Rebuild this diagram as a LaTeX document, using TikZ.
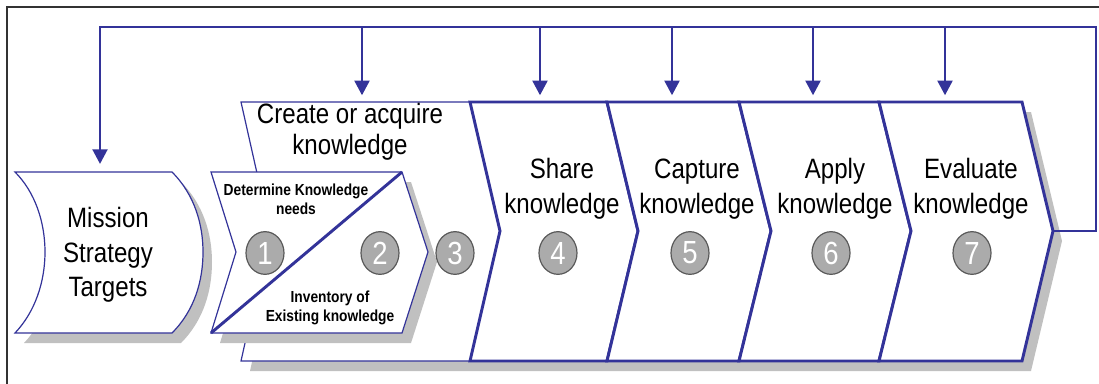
\documentclass[tikz,border=0pt]{standalone}
\usepackage{fontspec}
\setmainfont{Liberation Sans}[FakeStretch=0.86]
\usetikzlibrary{arrows.meta, shapes.geometric}

\definecolor{kmblue}{RGB}{51,51,153}
\definecolor{kmshade}{RGB}{192,192,192}

\begin{document}
\begin{tikzpicture}[x=0.75pt, y=-0.75pt,
    thin edge/.style={draw=kmblue, line width=0.9pt, fill=white, line join=miter},
    thick edge/.style={draw=kmblue, line width=2.2pt, fill=white, line join=miter},
    shade/.style={fill=kmshade, draw=none},
    feedback/.style={draw=kmblue, line width=2.2pt, -{Triangle[width=11pt,length=11pt]}},
    badge/.style={ellipse, draw=black!65, line width=0.9pt, fill=black!33, text=white,
        minimum width=28.5pt, minimum height=32pt, inner sep=0pt, font=\fontsize{24}{24}\selectfont},
    biglabel/.style={align=center, font=\fontsize{21}{26}\selectfont},
    smalllabel/.style={align=center, font=\bfseries\fontsize{12}{14.5}\selectfont}]
    		\useasboundingbox (0,0) rectangle (1099,383);
    		
    		% frame
    		\draw[black!80, line width=1.1pt] (7,390) -- (7,7) -- (1105,7);
    		
    		% shadows
    		\begin{scope}[shift={(9,10)}]
    			\path[shade] (15,172) -- (172,172) .. controls (195,195) and (203,225) .. (203,252)
    				.. controls (203,280) and (195,310) .. (172,333) -- (15,333)
    				.. controls (35,312) and (45,282) .. (45,252) .. controls (45,222) and (35,192) .. (15,172) -- cycle;
    			\path[shade] (241,102) -- (1022,102) -- (1053,231) -- (1022,361) -- (241,361) -- (270,231) -- cycle;
    		\end{scope}
    		
    		% mission
    		\path[thin edge] (15,172) -- (172,172) .. controls (195,195) and (203,225) .. (203,252)
    			.. controls (203,280) and (195,310) .. (172,333) -- (15,333)
    			.. controls (35,312) and (45,282) .. (45,252) .. controls (45,222) and (35,192) .. (15,172) -- cycle;
    		\node[biglabel] (mission) at (108,255) {Mission\\Strategy\\Targets};
    		
    		% create or acquire
    		\path[thin edge] (241,102) -- (470,102) -- (500,231) -- (470,361) -- (241,361) -- (270,231) -- cycle;
    		\node[biglabel, font=\fontsize{21}{23.5}\selectfont] (create) at (350,132) {Create or acquire\\knowledge};
    		
    		% needs and inventory
    		\path[shade] (220,182) -- (411,182) -- (437,262) -- (411,343) -- (220,343) -- (245,262) -- cycle;
    		\path[thin edge] (211,172) -- (402,172) -- (428,252) -- (402,333) -- (211,333) -- (236,252) -- cycle;
    		\draw[thick edge] (211,333) -- (402,172);
    		\node[smalllabel] (needs) at (296,199) {Determine Knowledge\\needs};
    		\node[smalllabel] (inventory) at (330,308) {Inventory of\\Existing knowledge};
    		
    		% steps
    		\path[thick edge] (470,102) -- (607,102) -- (638,231) -- (607,361) -- (470,361) -- (500,231) -- cycle;
    		\path[thick edge] (607,102) -- (739,102) -- (771,231) -- (739,361) -- (607,361) -- (638,231) -- cycle;
    		\path[thick edge] (739,102) -- (879,102) -- (911,231) -- (879,361) -- (739,361) -- (771,231) -- cycle;
    		\path[thick edge] (879,102) -- (1022,102) -- (1053,231) -- (1022,361) -- (879,361) -- (911,231) -- cycle;
    		\node[biglabel] (share) at (562,189) {Share\\knowledge};
    		\node[biglabel] (capture) at (697,189) {Capture\\knowledge};
    		\node[biglabel] (apply) at (835,189) {Apply\\knowledge};
    		\node[biglabel] (evaluate) at (971,189) {Evaluate\\knowledge};
    		
    		% numbers
    		\node[badge] (one) at (265,253) {1};
    		\node[badge] (two) at (380,253) {2};
    		\node[badge] (three) at (455,253) {3};
    		\node[badge] (four) at (558,253) {4};
    		\node[badge] (five) at (690,253) {5};
    		\node[badge] (six) at (831,253) {6};
    		\node[badge] (seven) at (972,253) {7};
    		
    		% feedback loop
    		\coordinate (evaltip) at (1053,231);
    		\coordinate (busright) at (1096,27);
    		\coordinate (busleft) at (100,27);
    		\coordinate (missiontop) at (100,172);
    		\coordinate (createtop) at (362,102);
    		\coordinate (sharetop) at (540,102);
    		\coordinate (capturetop) at (672,102);
    		\coordinate (applytop) at (813,102);
    		\coordinate (evaltop) at (945,102);
    		\draw[feedback, shorten >=6pt] (evaltip) -| (busright) -- (busleft) -- (missiontop);
    		\foreach \t in {createtop, sharetop, capturetop, applytop, evaltop}
    			\draw[feedback, shorten >=5pt] (\t |- busleft) -- (\t);
    	\end{tikzpicture}
\end{document}
